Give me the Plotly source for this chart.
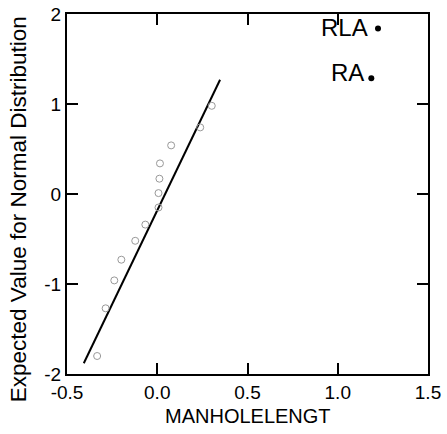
import plotly.graph_objects as go

# Data
manhole_x = [-0.333, -0.286, -0.238, -0.199, -0.122, -0.066, 0.007, 0.007, 0.012, 0.015, 0.077, 0.238, 0.302]
normal_y = [-1.80, -1.27, -0.96, -0.73, -0.52, -0.34, -0.15, 0.01, 0.17, 0.34, 0.54, 0.74, 0.98]

outlier_names = ["RLA", "RA"]
outlier_x = [1.223, 1.186]
outlier_y = [1.84, 1.285]

fit_x = [-0.407, 0.348]
fit_y = [-1.88, 1.27]

x_ticks = [-0.5, 0.0, 0.5, 1.0, 1.5]
x_tick_labels = ["-0.5", "0.0", "0.5", "1.0", "1.5"]
y_ticks = [-2, -1, 0, 1, 2]
y_tick_labels = ["-2", "-1", "0", "1", "2"]

x_title = "MANHOLELENGT"
y_title = "Expected Value for Normal Distribution"

FONT = "Liberation Sans, Arial, Helvetica, sans-serif"

fig = go.Figure()
fig.add_trace(go.Scatter(
    x=fit_x, y=fit_y, mode="lines",
    line=dict(color="black", width=2), showlegend=False, hoverinfo="skip"))
fig.add_trace(go.Scatter(
    x=manhole_x, y=normal_y, mode="markers",
    marker=dict(symbol="circle-open", size=7, color="#999999", line=dict(width=1, color="#999999")),
    showlegend=False))
fig.add_trace(go.Scatter(
    x=outlier_x, y=outlier_y, mode="markers",
    marker=dict(symbol="circle", size=6, color="black"),
    showlegend=False))

shifts = {"RLA": (-8, 1), "RA": (-5, 6)}
for name, xv, yv in zip(outlier_names, outlier_x, outlier_y):
    dx, dy = shifts[name]
    fig.add_annotation(x=xv, y=yv, xref="x", yref="y", text=name, showarrow=False,
                       xanchor="right", yanchor="middle", xshift=dx, yshift=dy,
                       font=dict(family=FONT, size=24, color="black"))

# axis titles as annotations (fixed margins, no automargin redraw)
fig.add_annotation(x=-0.135, y=(434 - 60 - 209) / (434 - 74), xref="paper", yref="paper",
                   text=y_title, showarrow=False, textangle=-90,
                   font=dict(family=FONT, size=22.5, color="black"),
                   xanchor="center", yanchor="middle")
fig.add_annotation(x=0.5, y=-0.117, xref="paper", yref="paper",
                   text=x_title, showarrow=False,
                   font=dict(family=FONT, size=20, color="black"),
                   xanchor="center", yanchor="middle")

axis_common = dict(
    showline=True, linecolor="black", linewidth=2, mirror="ticks",
    ticks="inside", ticklen=11, tickwidth=2, tickcolor="black",
    showgrid=False, zeroline=False, automargin=False,
    tickfont=dict(family=FONT, size=19, color="black"),
)

fig.update_layout(
    template="none",
    width=447, height=434,
    margin=dict(l=67, r=19, t=14, b=60, autoexpand=False),
    plot_bgcolor="white", paper_bgcolor="white",
    showlegend=False,
    xaxis=dict(range=[-0.5, 1.5], tickmode="array", tickvals=x_ticks, ticktext=x_tick_labels,
               **axis_common),
    yaxis=dict(range=[-2, 2], tickmode="array", tickvals=y_ticks, ticktext=y_tick_labels,
               **axis_common),
)

fig.write_html("out.html")
